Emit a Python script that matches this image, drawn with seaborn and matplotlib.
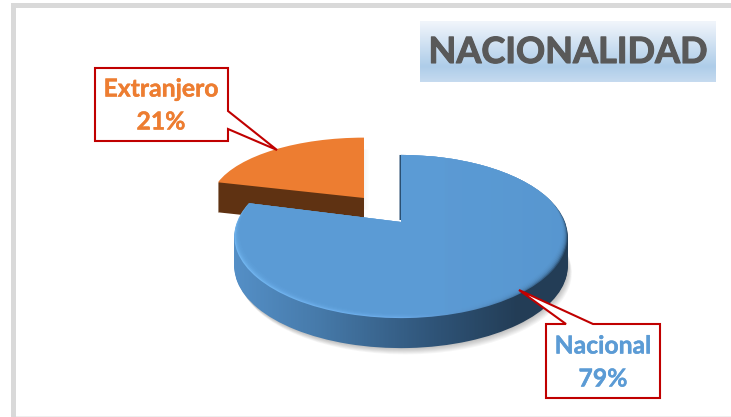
import numpy as np
import matplotlib
matplotlib.use("Agg")
import matplotlib.pyplot as plt
import matplotlib.patheffects as pe
import seaborn as sns
from matplotlib.colors import LinearSegmentedColormap
from matplotlib.patches import PathPatch, Polygon, Rectangle
from matplotlib.path import Path

# data
categories = ["Nacional", "Extranjero"]
percentages = [79, 21]
title_text = "NACIONALIDAD"

sns.set_theme(style="white")
plt.rcParams["font.family"] = ["Lato", "DejaVu Sans"]
palette = sns.color_palette(["#5b9bd5", "#ed7d31"])

W, H = 731, 417
fig = plt.figure(figsize=(W / 100, H / 100), dpi=100, facecolor="white")
ax = fig.add_axes([0, 0, 1, 1])

# let the library work out the slices, then tilt them by hand
wedges, _ = ax.pie(percentages, startangle=90, counterclock=False, colors=palette)
blue_path = wedges[0].get_path().deepcopy()
orange_path = wedges[1].get_path().deepcopy()
for w in wedges:
    w.remove()
ax.set_aspect("auto")
ax.set_xlim(0, W)
ax.set_ylim(H, 0)
ax.set_axis_off()


def tilt(path, cx, cy, r, a, b, dx=0, dy=0):
    # perspective view of a flat unit disc, returns a path in pixel coords
    v = path.vertices
    w = 1 + b * v[:, 1]
    out = np.column_stack([cx + dx + r * v[:, 0] / w, cy + dy - a * v[:, 1] / w])
    return Path(out, path.codes)


def add_path(path, z, **kw):
    p = PathPatch(path, lw=0, zorder=z, **kw)
    ax.add_patch(p)
    return p


def gradient_clipped(clip_patch, cmap, z):
    im = ax.imshow(np.linspace(0, 1, 340)[None, :], cmap=cmap, vmin=0, vmax=1,
                   extent=(230, 570, 360, 140), aspect="auto", zorder=z)
    im.set_clip_path(clip_patch)


def label(x, y, s, color, size=17.8, z=9, stroke=0.3):
    ax.text(x, y, s, fontsize=size, fontweight="bold", color=color, ha="center", va="center", zorder=z,
            path_effects=[pe.withStroke(linewidth=stroke, foreground=color)])


# frame
ax.add_patch(Rectangle((11, 3), W - 11, 5, fc="#d9d9d9", lw=0))
ax.add_patch(Rectangle((11, 3), 5, H - 3, fc="#d9d9d9", lw=0))
ax.add_patch(Rectangle((16, 415.5), W - 16, 1.5, fc="#eeeeee", lw=0))

# title box
title_cmap = LinearSegmentedColormap.from_list(
    "title", [(0, "#f1f5fb"), (0.75, "#aecde9"), (1, "#c5daef")])
ax.imshow(np.linspace(0, 1, 61)[:, None], cmap=title_cmap, vmin=0, vmax=1,
          extent=(420, 716, 82, 21), aspect="auto", zorder=1)
label(568, 52.5, title_text, "#595959", size=26, z=2, stroke=0.8)

# orange slice
o_geo = dict(cx=364, cy=198, r=153, a=64, b=0.06)
for k in range(5, 0, -1):
    add_path(tilt(orange_path, **o_geo, dx=k, dy=12), 2, fc="#000000", alpha=0.006)
for d in range(30, 0, -1):
    add_path(tilt(orange_path, **o_geo, dy=d), 3, fc="#5f3212")
add_path(tilt(orange_path, **o_geo), 4, fc=palette[1])

# blue slice
b_geo = dict(cx=401, cy=222, r=164, a=79, b=0.178)
side_cmap = LinearSegmentedColormap.from_list(
    "side", [(0, "#5590c8"), (0.25, "#477bab"), (0.6, "#2f5478"), (0.85, "#233d56"), (1, "#233d56")])
rim_cmap = LinearSegmentedColormap.from_list(
    "rim", [(0, "#72b6f0"), (0.5, "#6cacea"), (0.8, "#4f86b9"), (1, "#2c4f70")])

for k in range(7, 0, -1):
    add_path(tilt(blue_path, **b_geo, dx=k * 0.6, dy=30 + k * 0.9), 4.5, fc="#000000", alpha=0.035)
for d in range(30, 0, -1):
    clip = add_path(tilt(blue_path, **b_geo, dy=d), 5, fc="none")
    gradient_clipped(clip, side_cmap, 5)

# dark line down the straight cut
edge = add_path(tilt(blue_path, **b_geo, dx=-1.5), 5.5, fc="#2a4f72")
edge.set_clip_path(Rectangle((392, 150), 12, 70, transform=ax.transData))

outer = add_path(tilt(blue_path, **b_geo), 6, fc="none")
gradient_clipped(outer, rim_cmap, 6)
for k in range(1, 7):
    geo = dict(b_geo, r=b_geo["r"] - k * 0.9)
    layer = add_path(tilt(blue_path, **geo, dy=-k * 0.9), 7, fc=palette[0], alpha=0.4)
    layer.set_clip_path(outer.get_path(), ax.transData)

# callouts
red = "#c00000"
extranjero_box = [(95, 68), (228, 68), (228, 111), (277, 150), (228, 129), (228, 141), (95, 141)]
nacional_box = [(546, 324), (566, 324), (519, 290), (593, 324), (660, 324), (660, 398), (546, 398)]
for pts in (extranjero_box, nacional_box):
    ax.add_patch(Polygon(pts, closed=True, fc="white", ec=red, lw=1.5, joinstyle="miter", zorder=8))

label(161, 89, categories[1], palette[1])
label(161, 122, f"{percentages[1]}%", palette[1])
label(603, 346, categories[0], palette[0])
label(603, 379, f"{percentages[0]}%", palette[0])

ax.set_xlim(0, W)
ax.set_ylim(H, 0)
fig.savefig("out.png", dpi=100)
